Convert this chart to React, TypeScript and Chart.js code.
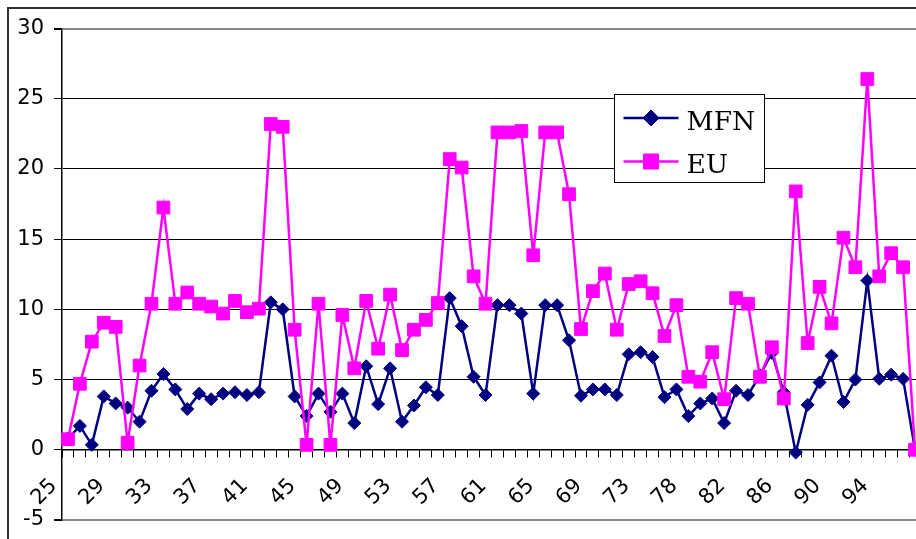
import React, { useEffect, useRef } from 'react';
import { Chart, registerables } from 'chart.js';

Chart.register(...registerables);

const categories = [
  '25', '26', '27', '28', '29', '30', '31', '32', '33', '34',
  '35', '36', '37', '38', '39', '40', '41', '42', '43', '44',
  '45', '46', '47', '48', '49', '50', '51', '52', '53', '54',
  '55', '56', '57', '58', '59', '60', '61', '62', '63', '64',
  '65', '66', '67', '68', '69', '70', '71', '72', '73', '74',
  '75', '76',
  '78', '79', '80', '81', '82', '83', '84', '85', '86', '87',
  '88', '89', '90', '91', '92', '93', '94', '95', '96', '97',
];

const tickLabels = ['25', '29', '33', '37', '41', '45', '49', '53', '57', '61', '65', '69', '73', '78', '82', '86', '90', '94'];

const mfnValues = [
  0.8, 1.7, 0.35, 3.8, 3.3, 3.0, 2.0, 4.2, 5.4, 4.3,
  2.9, 4.0, 3.6, 4.0, 4.1, 3.9, 4.1, 10.5, 10.0, 3.8,
  2.4, 4.0, 2.7, 4.0, 1.9, 5.95, 3.25, 5.8, 2.0, 3.15,
  4.45, 3.9, 10.8, 8.8, 5.2, 3.9, 10.3, 10.3, 9.7, 4.0,
  10.3, 10.3, 7.8, 3.85, 4.3, 4.3, 3.9, 6.8, 6.95, 6.6,
  3.75, 4.3,
  2.4, 3.3, 3.65, 1.9, 4.2, 3.9, 5.3, 6.9, 4.1, -0.2,
  3.2, 4.8, 6.7, 3.4, 5.0, 12.05, 5.05, 5.35, 5.05, 0,
];

const euValues = [
  0.75, 4.7, 7.7, 9.05, 8.75, 0.5, 6.0, 10.4, 17.25, 10.4,
  11.2, 10.4, 10.2, 9.7, 10.6, 9.8, 10.05, 23.2, 23.0, 8.55,
  0.35, 10.4, 0.35, 9.6, 5.8, 10.6, 7.2, 11.05, 7.1, 8.55,
  9.25, 10.45, 20.7, 20.1, 12.35, 10.4, 22.6, 22.6, 22.7, 13.85,
  22.6, 22.6, 18.2, 8.6, 11.3, 12.55, 8.55, 11.8, 12.0, 11.15,
  8.1, 10.3,
  5.2, 4.85, 6.95, 3.6, 10.8, 10.4, 5.2, 7.3, 3.65, 18.4,
  7.6, 11.6, 9.0, 15.1, 13.0, 26.4, 12.35, 14.0, 13.0, 0,
];

const seriesNames = ['MFN', 'EU'];
const seriesColors = ['#000080', '#FF00FF'];
const seriesMarkers = ['rectRot', 'rect'];

const tickFont = { family: 'DejaVu Sans', size: 21 };

function drawMarker(ctx: CanvasRenderingContext2D, style: string, x: number, y: number, r: number) {
  ctx.beginPath();
  if (style === 'rectRot') {
    ctx.moveTo(x, y - r);
    ctx.lineTo(x + r, y);
    ctx.lineTo(x, y + r);
    ctx.lineTo(x - r, y);
    ctx.closePath();
  } else {
    ctx.rect(x - r, y - r, 2 * r, 2 * r);
  }
  ctx.fill();
  ctx.stroke();
}

const boxLegend = {
  id: 'boxLegend',
  afterDraw(chart: any) {
    const ctx = chart.ctx as CanvasRenderingContext2D;
    ctx.save();
    const bx = 605.5;
    const by = 85.5;
    const bw = 150;
    const bh = 88;
    ctx.fillStyle = '#ffffff';
    ctx.fillRect(bx, by, bw, bh);
    ctx.strokeStyle = '#000000';
    ctx.lineWidth = 1;
    ctx.strokeRect(bx, by, bw, bh);

    const rows = [by + 23.5, by + 67];
    chart.data.datasets.forEach((ds: any, i: number) => {
      const y = rows[i];
      ctx.strokeStyle = ds.borderColor;
      ctx.lineWidth = 2.5;
      ctx.beginPath();
      ctx.moveTo(bx + 9, y);
      ctx.lineTo(bx + 64, y);
      ctx.stroke();
      ctx.fillStyle = ds.backgroundColor;
      ctx.lineWidth = 1;
      drawMarker(ctx, ds.pointStyle, bx + 36.5, y, ds.pointStyle === 'rectRot' ? 8 : 7.5);
      ctx.fillStyle = '#000000';
      ctx.font = '26.5px "DejaVu Serif"';
      ctx.textBaseline = 'alphabetic';
      ctx.textAlign = 'left';
      ctx.fillText(ds.label, bx + 72, y + 11.5);
    });
    ctx.restore();
  },
};

export default function App() {
  const canvasRef = useRef<HTMLCanvasElement | null>(null);

  useEffect(() => {
    const canvas = canvasRef.current;
    if (!canvas) return;
    const chart = new Chart(canvas, {
      type: 'line',
      data: {
        labels: categories,
        datasets: [
          {
            label: seriesNames[0],
            data: mfnValues,
            borderColor: seriesColors[0],
            backgroundColor: seriesColors[0],
            borderWidth: 2.5,
            pointStyle: seriesMarkers[0] as any,
            pointRadius: 6.5,
            pointBorderWidth: 1,
            tension: 0,
            order: 1,
            clip: false as any,
          },
          {
            label: seriesNames[1],
            data: euValues,
            borderColor: seriesColors[1],
            backgroundColor: seriesColors[1],
            borderWidth: 2.5,
            pointStyle: seriesMarkers[1] as any,
            pointRadius: 9,
            pointBorderWidth: 1,
            tension: 0,
            order: 0,
            clip: false as any,
          },
        ],
      },
      options: {
        animation: false,
        responsive: false,
        devicePixelRatio: 1,
        layout: { padding: { left: 0, top: 19.5, right: 18, bottom: 34 } },
        plugins: {
          legend: { display: false },
          tooltip: { enabled: false },
        },
        scales: {
          x: {
            type: 'category',
            position: { y: 0 } as any,
            offset: true,
            grid: {
              display: true,
              drawOnChartArea: false,
              drawTicks: true,
              tickLength: 7,
              offset: true,
              color: '#000000',
              tickColor: '#000000',
              lineWidth: 1,
            },
            border: { display: true, color: '#000000', width: 1.5 },
            ticks: {
              autoSkip: false,
              maxRotation: 45,
              minRotation: 45,
              labelOffset: -14,
              padding: 17,
              color: '#000000',
              font: tickFont,
              callback: (_v: any, i: number) => (tickLabels.includes(categories[i]) ? categories[i] : ''),
            },
            afterFit: (s: any) => {
              s.height = 0;
              s.paddingLeft = 0;
              s.paddingRight = 0;
            },
          },
          y: {
            type: 'linear',
            min: -5,
            max: 30,
            ticks: {
              stepSize: 5,
              padding: 10,
              color: '#000000',
              font: tickFont,
            },
            grid: {
              color: (c: any) => (c.tick && (c.tick.value === 30 || c.tick.value === -5) ? '#888888' : '#000000'),
              lineWidth: (c: any) => (c.tick && (c.tick.value === 30 || c.tick.value === -5) ? 2 : 1),
              tickLength: 8,
              tickColor: '#000000',
              drawTicks: true,
            },
            border: { display: true, color: '#000000', width: 1.5 },
            afterFit: (s: any) => {
              s.width = 53;
              s.paddingTop = 0;
              s.paddingBottom = 0;
            },
          },
        },
      },
      plugins: [boxLegend],
    });
    return () => chart.destroy();
  }, []);

  return (
    <div
      style={{
        position: 'fixed',
        left: 7,
        top: 7,
        width: 909,
        height: 532,
        overflow: 'hidden',
        background: '#fff',
        boxSizing: 'border-box',
        borderLeft: '2px solid #333',
        borderTop: '2px solid #333',
      }}
    >
      <canvas ref={canvasRef} width={930} height={545} style={{ display: 'block' }} />
    </div>
  );
}
